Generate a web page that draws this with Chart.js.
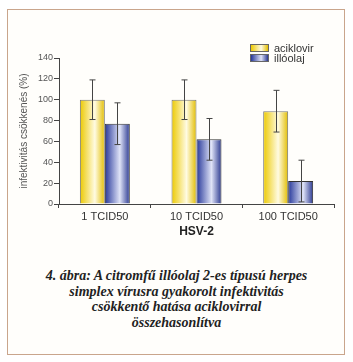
<!DOCTYPE html>
<html>
<head>
<meta charset="utf-8">
<script src="https://cdn.jsdelivr.net/npm/chart.js@4.4.0/dist/chart.umd.min.js"></script>
<style>
  body { margin: 0; width: 353px; height: 362px; background: #fff; position: relative; overflow: hidden; }
  #frame { position: absolute; left: 7px; top: 9px; width: 336px; height: 344px; border: 1px solid #c9a58c; background: #fffefb; }
  #wrap { position: absolute; left: 0; top: 0; width: 353px; height: 245px; }
  #legend { position: absolute; left: 250px; top: 43px; font-family: "Liberation Sans", Arial, sans-serif; font-size: 11px; color: #333; }
  #legend div { height: 10px; line-height: 10px; margin-bottom: 0; white-space: nowrap; }
  #legend span.box { display: inline-block; width: 17px; height: 6px; border: 1px solid #666; vertical-align: middle; margin-right: 5px; margin-top: -2px; }
  #caption { position: absolute; left: 0; width: 353px; top: 268px; text-align: center; font-family: "Liberation Serif", "DejaVu Serif", serif; font-style: italic; font-weight: bold; font-size: 14px; line-height: 15.5px; color: #222; }
</style>
</head>
<body>
<div id="frame"></div>
<div id="wrap"><canvas id="grafico"></canvas></div>
<div id="legend"></div>
<div id="caption">4. ábra: A citromfű illóolaj 2-es típusú herpes<br>simplex vírusra gyakorolt infektivitás<br>csökkentő hatása aciklovirral<br>összehasonlítva</div>
<script>
// adatok
const kategoriak = ['1 TCID50', '10 TCID50', '100 TCID50'];
const sorozatNevek = ['aciklovir', 'illóolaj'];
const aciklovir = [100, 100, 89];
const illoolaj = [77, 62, 22];
const aciklovirHiba = [19, 19, 20];
const illoolajHiba = [20, 20, 20];
const yTickek = [0, 20, 40, 60, 80, 100, 120, 140];

const szinek = [
  { alap: '#ecc900', vilagos: '#fffbe2', szel: '#e2bd00' },
  { alap: '#26379a', vilagos: '#dfe3f7', szel: '#2a3890' }
];

// legend (html)
const legend = document.getElementById('legend');
sorozatNevek.forEach(function (nev, i) {
  const c = szinek[i];
  const d = document.createElement('div');
  d.innerHTML = '<span class="box" style="background:linear-gradient(to right,' + c.alap + ',' + c.vilagos + ' 60%,' + c.szel + ')"></span>' + nev;
  legend.appendChild(d);
});

const gradiensPlugin = {
  id: 'gradiens',
  beforeDatasetDraw(chart, args) {
    const ctx = chart.ctx;
    const c = szinek[args.index];
    args.meta.data.forEach(function (bar) {
      const g = ctx.createLinearGradient(bar.x - bar.width / 2, 0, bar.x + bar.width / 2, 0);
      g.addColorStop(0, c.alap);
      g.addColorStop(0.6, c.vilagos);
      g.addColorStop(1, c.szel);
      // kulon options objektum minden oszlopnak
      bar.options = Object.assign({}, bar.options, { backgroundColor: g });
    });
  }
};

const hibaPlugin = {
  id: 'hibak',
  afterDatasetsDraw(chart) {
    const ctx = chart.ctx;
    const y = chart.scales.y;
    const hibak = [aciklovirHiba, illoolajHiba];
    ctx.save();
    ctx.strokeStyle = '#444';
    ctx.lineWidth = 1;
    chart.data.datasets.forEach(function (ds, di) {
      chart.getDatasetMeta(di).data.forEach(function (bar, i) {
        const v = ds.data[i];
        const x = Math.round(bar.x) + 0.5;
        const top = y.getPixelForValue(v + hibak[di][i]);
        const bot = y.getPixelForValue(Math.max(0, v - hibak[di][i]));
        ctx.beginPath();
        ctx.moveTo(x, top); ctx.lineTo(x, bot);
        ctx.moveTo(x - 3, top); ctx.lineTo(x + 3, top);
        ctx.moveTo(x - 3, bot); ctx.lineTo(x + 3, bot);
        ctx.stroke();
      });
    });
    ctx.restore();
  }
};

Chart.defaults.font.family = '"Liberation Sans", Arial, sans-serif';

new Chart(document.getElementById('grafico'), {
  type: 'bar',
  data: {
    labels: kategoriak,
    datasets: [
      { label: sorozatNevek[0], data: aciklovir, borderColor: '#777', borderWidth: 1, backgroundColor: szinek[0].alap },
      { label: sorozatNevek[1], data: illoolaj, borderColor: '#333', borderWidth: 1, backgroundColor: szinek[1].alap }
    ]
  },
  options: {
    responsive: true,
    maintainAspectRatio: false,
    animation: false,
    categoryPercentage: 0.545,
    barPercentage: 1,
    layout: { padding: { left: 0, right: 19, top: 58, bottom: 0 } },
    plugins: { legend: { display: false }, tooltip: { enabled: false } },
    scales: {
      x: {
        afterFit(s) { s.height = 41; },
        grid: { drawOnChartArea: false, tickLength: 4, color: '#444', offset: true },
        border: { color: '#444' },
        ticks: { color: '#333', font: { size: 11 }, padding: 2 },
        title: { display: true, text: 'HSV-2', color: '#222', font: { size: 12, weight: 'bold' }, padding: { top: 0, bottom: 6 } }
      },
      y: {
        min: 0, max: 140,
        afterFit(s) { s.width = 59; },
        afterBuildTicks(s) { s.ticks = yTickek.map(function (v) { return { value: v }; }); },
        grid: { drawOnChartArea: false, tickLength: 5, color: '#444' },
        border: { color: '#444' },
        ticks: { color: '#555', font: { size: 9 }, padding: 1 },
        title: { display: true, text: 'infektivitás csökkenés (%)', color: '#555', font: { size: 10 }, padding: { top: 18, bottom: 0 } }
      }
    }
  },
  plugins: [gradiensPlugin, hibaPlugin]
});
</script>
</body>
</html>
